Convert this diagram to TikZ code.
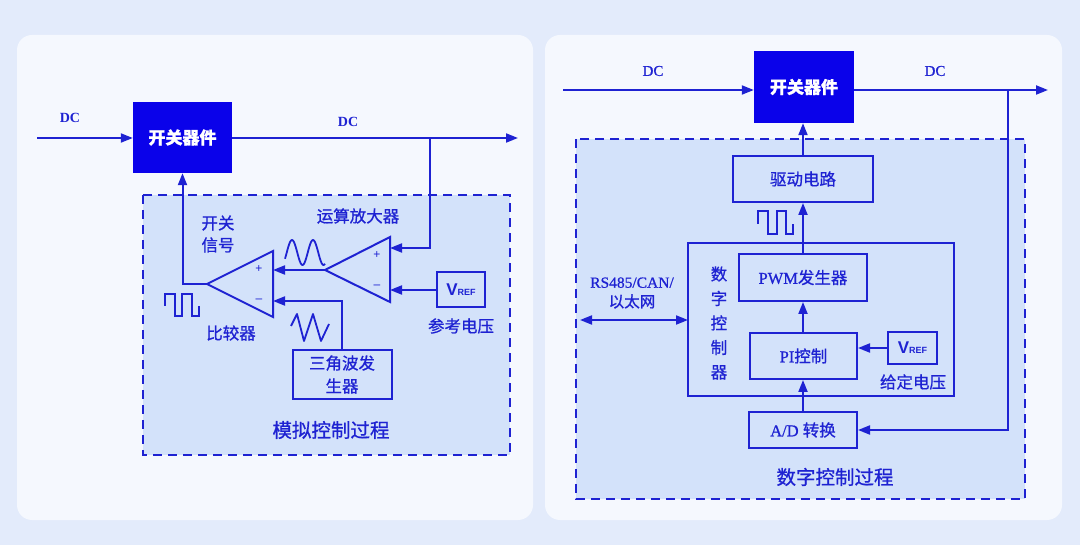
\documentclass[tikz,border=0pt]{standalone}
\usepackage{fontspec}
\setmainfont{Liberation Serif}
\setsansfont{Liberation Sans}
\newfontfamily\cjk[FakeBold=0.9]{Noto Sans CJK SC}
\newfontfamily\lat[FakeBold=0.8]{Liberation Serif}
\usetikzlibrary{arrows.meta,positioning}
\definecolor{pagebg}{HTML}{E3EBFB}
\definecolor{panelbg}{HTML}{F5F8FE}
\definecolor{zonebg}{HTML}{D3E2FA}
\definecolor{ink}{HTML}{1E22D2}
\definecolor{swblue}{HTML}{0A02EA}
\newcommand{\vref}{{\sffamily\bfseries\fontsize{17}{17}\selectfont V\fontsize{9}{9}\selectfont REF}}
\tikzset{
  panel/.style={fill=panelbg,rounded corners=15pt},
  zone/.style={draw=ink,fill=zonebg,line width=2.2pt,dash pattern=on 9pt off 6pt},
  switchbox/.style={fill=swblue,text=white,inner sep=0pt,font=\cjk\bfseries\fontsize{17}{17}\selectfont},
  block/.style={draw=ink,line width=2pt,text=ink,inner sep=0pt,align=center,
                font=\cjk\fontsize{16.5}{23}\selectfont},
  lbl/.style={text=ink,inner sep=0pt,align=center,font=\cjk\fontsize{16.5}{22}\selectfont},
  title/.style={text=ink,inner sep=0pt,font=\cjk\fontsize{19.5}{20}\selectfont},
  dc/.style={text=ink,inner sep=0pt,font=\bfseries\fontsize{14}{14}\selectfont},
  pm/.style={text=ink,inner sep=0pt,font=\sffamily\fontsize{12}{12}\selectfont},
  wire/.style={draw=ink,line width=2pt},
  wave/.style={draw=ink,line width=1.8pt,line join=round}
}
\begin{document}
\begin{tikzpicture}[x=1pt,y=-1pt,>={Triangle[length=12pt,width=9pt]}]

\fill[pagebg] (0,0) rectangle (1080,545);
\useasboundingbox (0,0) rectangle (1080,545);
\path[panel] (17,35) rectangle (533,520);
\path[panel] (545,35) rectangle (1062,520);

% analog control
\draw[zone] (143,195) rectangle (510,455);
\node[switchbox,minimum width=99pt,minimum height=71pt] (sw1) at (182.5,137.5) {开关器件};
\coordinate (in1) at (37,138);
\coordinate (out1) at (518,138);
\coordinate (tap1) at (430,138);
\node[dc] (dcin1) at (70,118) {DC};
\node[dc] (dcout1) at (348,122) {DC};

% op amp and comparator
\draw[wire,line join=miter] (390,237) -- (390,302) -- (325,270) -- cycle;
\coordinate (oaP) at (390,248);
\coordinate (oaN) at (390,290);
\coordinate (oaOut) at (325,270);
\node[pm] at (377,255) {+};
\node[pm] at (377,287) {--};
\draw[wire,line join=miter] (273,251) -- (273,317) -- (207,284) -- cycle;
\coordinate (cpP) at (273,270);
\coordinate (cpN) at (273,301);
\coordinate (cpOut) at (207,284);
\node[pm] at (259,269) {+};
\node[pm] at (259,301) {--};

\node[block,minimum width=48pt,minimum height=35pt] (vref1) at (461,289.5) {\vref};
\node[block,minimum width=99pt,minimum height=49pt] (tri) at (342,374.5) {三角波发\\生器};

\node[lbl] (opamp) at (358,216) {运算放大器};
\node[lbl] (refv) at (461,326) {参考电压};
\node[lbl] (swsig) at (218,234) {开关\\信号};
\node[lbl] (comp) at (231,333) {比较器};
\node[title] (analog) at (331,430) {模拟控制过程};

\draw[wire,->] (in1) -- (sw1.west |- in1);
\draw[wire,->] (sw1.east |- out1) -- (out1);
\draw[wire,->] (tap1) |- (oaP);
\draw[wire,->] (vref1.west |- oaN) -- (oaN);
\draw[wire,->] (oaOut) -- (cpP);
\draw[wire,->] (tri.north) |- (cpN);
\draw[wire,->] (cpOut) -| (sw1.south);

\draw[wave] plot[domain=285:325,samples=60] (\x,{252.5-12.5*sin(360/21*(\x-286.75))});
\draw[wave] (291,326) -- (297,314) -- (304,341) -- (313,314) -- (321,341) -- (329,324);
\draw[wave,line join=miter] (165,306) |- (175,294) |- (182,316) |- (192,294) |- (199,316) -- (199,306);

% digital control
\draw[zone] (576,139) rectangle (1025,499);
\node[switchbox,minimum width=100pt,minimum height=72pt] (sw2) at (804,87) {开关器件};
\coordinate (in2) at (563,90);
\coordinate (out2) at (1048,90);
\coordinate (tap2) at (1008,90);
\node[dc,font=\lat\fontsize{15}{15}\selectfont] (dcin2) at (653,71) {DC};
\node[dc,font=\lat\fontsize{15}{15}\selectfont] (dcout2) at (935,71) {DC};

\node[block,minimum width=140pt,minimum height=46pt] (drv) at (803,179) {驱动电路};
\draw[wire] (688,243) rectangle (954,396);
\coordinate (ctrlW) at (688,320);
\node[block,minimum width=128pt,minimum height=47pt] (pwm) at (803,277.5) {{\lat PWM}发生器};
\node[block,minimum width=107pt,minimum height=46pt] (pi) at (803.5,356) {{\lat PI}控制};
\node[block,minimum width=49pt,minimum height=32pt] (vref2) at (912.5,348) {\vref};
\node[block,minimum width=108pt,minimum height=36pt] (adc) at (803,430) {{\lat A/D }转换};
\node[lbl,font=\cjk\fontsize{16.5}{24.5}\selectfont] (dctl) at (719,323) {数\\字\\控\\制\\器};
\node[lbl] (givenv) at (913,382) {给定电压};
\node[lbl,font=\lat\fontsize{15.5}{19.5}\selectfont] (bus) at (632,293) {RS485/CAN/\\{\cjk 以太网}};
\node[title] (digital) at (835,477) {数字控制过程};
\coordinate (busW) at (580,320);

\draw[wire,->] (in2) -- (sw2.west |- in2);
\draw[wire,->] (sw2.east |- out2) -- (out2);
\draw[wire,->] (tap2) |- (adc);
\draw[wire,->] (drv) -- (drv |- sw2.south);
\draw[wire,->] (pwm) -- (drv);
\draw[wire,->] (pi.north -| pwm) -- (pwm);
\draw[wire,->] (adc) -- (adc |- pi.south);
\draw[wire,->] (vref2) -- (vref2 -| pi.east);
\draw[wire,<->] (busW) -- (ctrlW);

\draw[wave,line join=miter] (758,224) |- (768,211) |- (777,234) |- (786,211) |- (793,234) -- (793,224);

\end{tikzpicture}
\end{document}
